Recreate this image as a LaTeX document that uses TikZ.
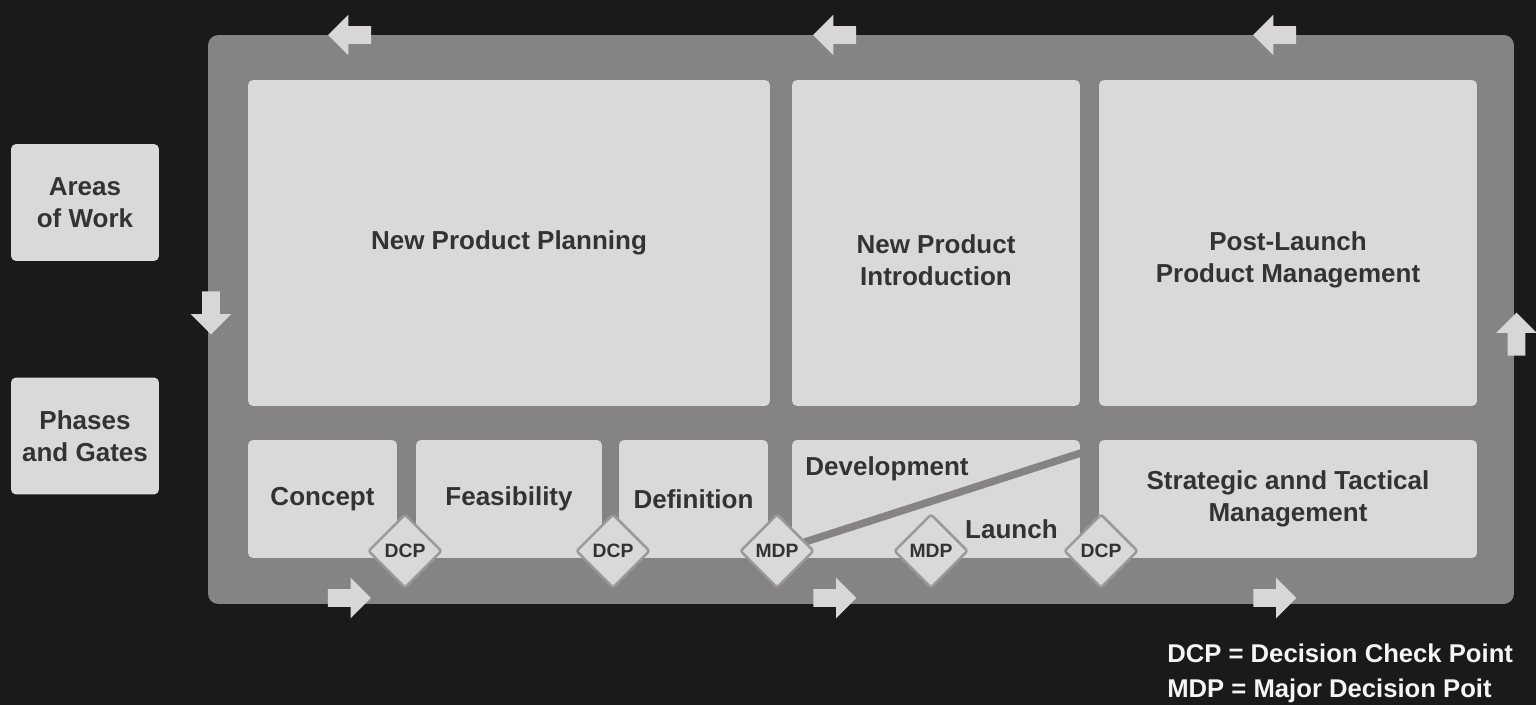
\documentclass[tikz,border=0pt]{standalone}
\usepackage{fontspec}
\setmainfont{Liberation Sans}
\usetikzlibrary{shapes.geometric,shapes.arrows}
\definecolor{bgdark}{HTML}{1A1A1A}
\definecolor{framegray}{HTML}{858383}
\definecolor{boxgray}{HTML}{D9D9D9}
\definecolor{arrowgray}{HTML}{D8D6D7}
\definecolor{textdark}{HTML}{333333}
\definecolor{rimgray}{HTML}{9A9A9A}
\pgfdeclarelayer{front}
\pgfsetlayers{main,front}

\begin{document}
\begin{tikzpicture}[
    x=0.02cm, y=-0.02cm,
    box/.style={rectangle, rounded corners=0.1cm, fill=boxgray, text=textdark, font=\fontsize{14.8}{18.2}\selectfont\bfseries, align=center, inner sep=0pt},
    lbl/.style={text=textdark, font=\fontsize{14.8}{18.2}\selectfont\bfseries, align=center, inner sep=0pt},
    gate/.style={diamond, fill=boxgray, draw=rimgray, line width=0.05cm, rounded corners=1.5pt, minimum size=1.48cm, inner sep=0pt, text=textdark, font=\fontsize{11}{13}\selectfont\bfseries},
    flow/.style={single arrow, fill=arrowgray, minimum height=0.86cm, inner xsep=0pt, inner ysep=0.17cm, single arrow head extend=0.23cm},
    cut/.style={draw=framegray, line width=0.15cm},
    legend/.style={text=white!96!black, font=\fontsize{14.6}{18.2}\selectfont\bfseries, anchor=base west, inner sep=0pt}
]

% Background and frame
\fill[bgdark] (0,0) rectangle (1536,705);
\useasboundingbox (0,0) rectangle (1536,705);
\node[rectangle, rounded corners=0.2cm, fill=framegray, minimum width=26.12cm, minimum height=11.38cm] (frame) at (861,319.5) {};

% Row labels on the left
\node[box, minimum width=2.96cm, minimum height=2.34cm] (areas) at (85,202.5) {Areas\\of Work};
\node[box, minimum width=2.96cm, minimum height=2.34cm] (phases) at (85,436) {Phases\\and Gates};

% Areas of work
\node[box, minimum width=10.44cm, minimum height=6.52cm] (npp) at (509,243) {New Product Planning};
\node[box, minimum width=5.76cm, minimum height=6.52cm] (npi) at (936,243) {};
\node[box, minimum width=7.56cm, minimum height=6.52cm] (plpm) at (1288,243) {};
\node[lbl] (npitxt) at (936,260) {New Product\\Introduction};
\node[lbl] (plpmtxt) at (1288,260) {Post-Launch\\Product Management};

% Phases
\node[box, minimum width=2.98cm, minimum height=2.36cm] (concept) at (322.5,499) {Concept};
\node[box, minimum width=3.72cm, minimum height=2.36cm] (feas) at (509,499) {Feasibility};
\node[box, minimum width=2.98cm, minimum height=2.36cm] (defn) at (693.5,499) {Definition};
\node[box, minimum width=5.76cm, minimum height=2.36cm] (devlaunch) at (936,499) {};
\node[box, minimum width=7.56cm, minimum height=2.36cm] (strat) at (1288,499) {Strategic annd Tactical\\Management};
\node[lbl, anchor=base west] (devtxt) at (805,476) {Development};
\node[lbl, anchor=base east] (launchtxt) at (1058,539) {Launch};

% Gates
\begin{pgfonlayer}{front}
\node[gate] (dcp1) at (405,551) {DCP};
\node[gate] (dcp2) at (613,551) {DCP};
\node[gate] (mdp1) at (777,551) {MDP};
\node[gate] (mdp2) at (931,551) {MDP};
\node[gate] (dcp3) at (1101,551) {DCP};
\end{pgfonlayer}

% Split between development and launch
\coordinate (devend) at (1084,452);
\draw[cut] (mdp1.center) -- (devend);

% Flow arrows round the frame
\node[flow, rotate=180] (top1) at (354,35) {};
\node[flow, rotate=180] (top2) at (839,35) {};
\node[flow, rotate=180] (top3) at (1279,35) {};
\node[flow] (bot1) at (345,598) {};
\node[flow] (bot2) at (830.5,598) {};
\node[flow] (bot3) at (1270.5,598) {};
\node[flow, rotate=-90] (left) at (211,308.5) {};
\node[flow, rotate=90] (right) at (1516.5,338.5) {};

% Legend
\node[legend] (legdcp) at (1167,663) {DCP = Decision Check Point};
\node[legend] (legmdp) at (1167,698) {MDP = Major Decision Poit};

\end{tikzpicture}
\end{document}
